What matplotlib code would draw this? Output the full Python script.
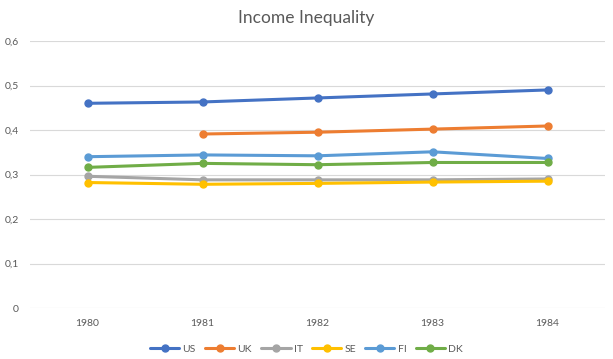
import matplotlib.pyplot as plt
import numpy as np

# Data
years = ['1980', '1981', '1982', '1983', '1984']
us = [0.460, 0.463, 0.472, 0.481, 0.490]
uk = [np.nan, 0.391, 0.395, 0.402, 0.409]
it = [0.296, 0.288, 0.288, 0.288, 0.290]
se = [0.282, 0.278, 0.280, 0.283, 0.285]
fi = [0.340, 0.344, 0.342, 0.351, 0.336]
dk = [0.316, 0.325, 0.322, 0.327, 0.327]

series = [('US', us, '#4472C4'), ('UK', uk, '#ED7D31'), ('IT', it, '#A5A5A5'),
          ('SE', se, '#FFC000'), ('FI', fi, '#5B9BD5'), ('DK', dk, '#70AD47')]

plt.rcParams['font.family'] = ['Lato', 'DejaVu Sans']

fig = plt.figure(figsize=(6.13, 3.59), dpi=100)
ax = fig.add_axes([30 / 613, 1 - 308 / 359, 575 / 613, 267 / 359])

x = np.arange(len(years))
for name, vals, color in series:
    ax.plot(x, vals, color=color, linewidth=2.2, marker='o', markersize=5,
            label=name, solid_capstyle='round')

ax.set_xlim(-0.5, len(years) - 0.5)
ax.set_ylim(0, 0.6)
ax.set_yticks(np.arange(0, 0.61, 0.1))
ax.set_yticklabels(['0'] + [f'0,{i}' for i in range(1, 7)])
ax.set_xticks(x)
ax.set_xticklabels(years)
ax.tick_params(length=0, labelsize=7.5, colors='#595959', pad=8)
ax.yaxis.grid(True, color='#D9D9D9', linewidth=0.8)
ax.set_axisbelow(True)
for s in ax.spines.values():
    s.set_visible(False)

fig.text(0.5, 1 - 18 / 359, 'Income Inequality', ha='center', va='center',
         fontsize=12.5, color='#595959')

fig.legend(loc='center', bbox_to_anchor=(0.5, 1 - 349 / 359), ncol=6,
           frameon=False, fontsize=7.5, handlelength=2.8, columnspacing=0.9,
           handletextpad=0.3, labelcolor='#595959')

fig.savefig('out.png', dpi=100)
